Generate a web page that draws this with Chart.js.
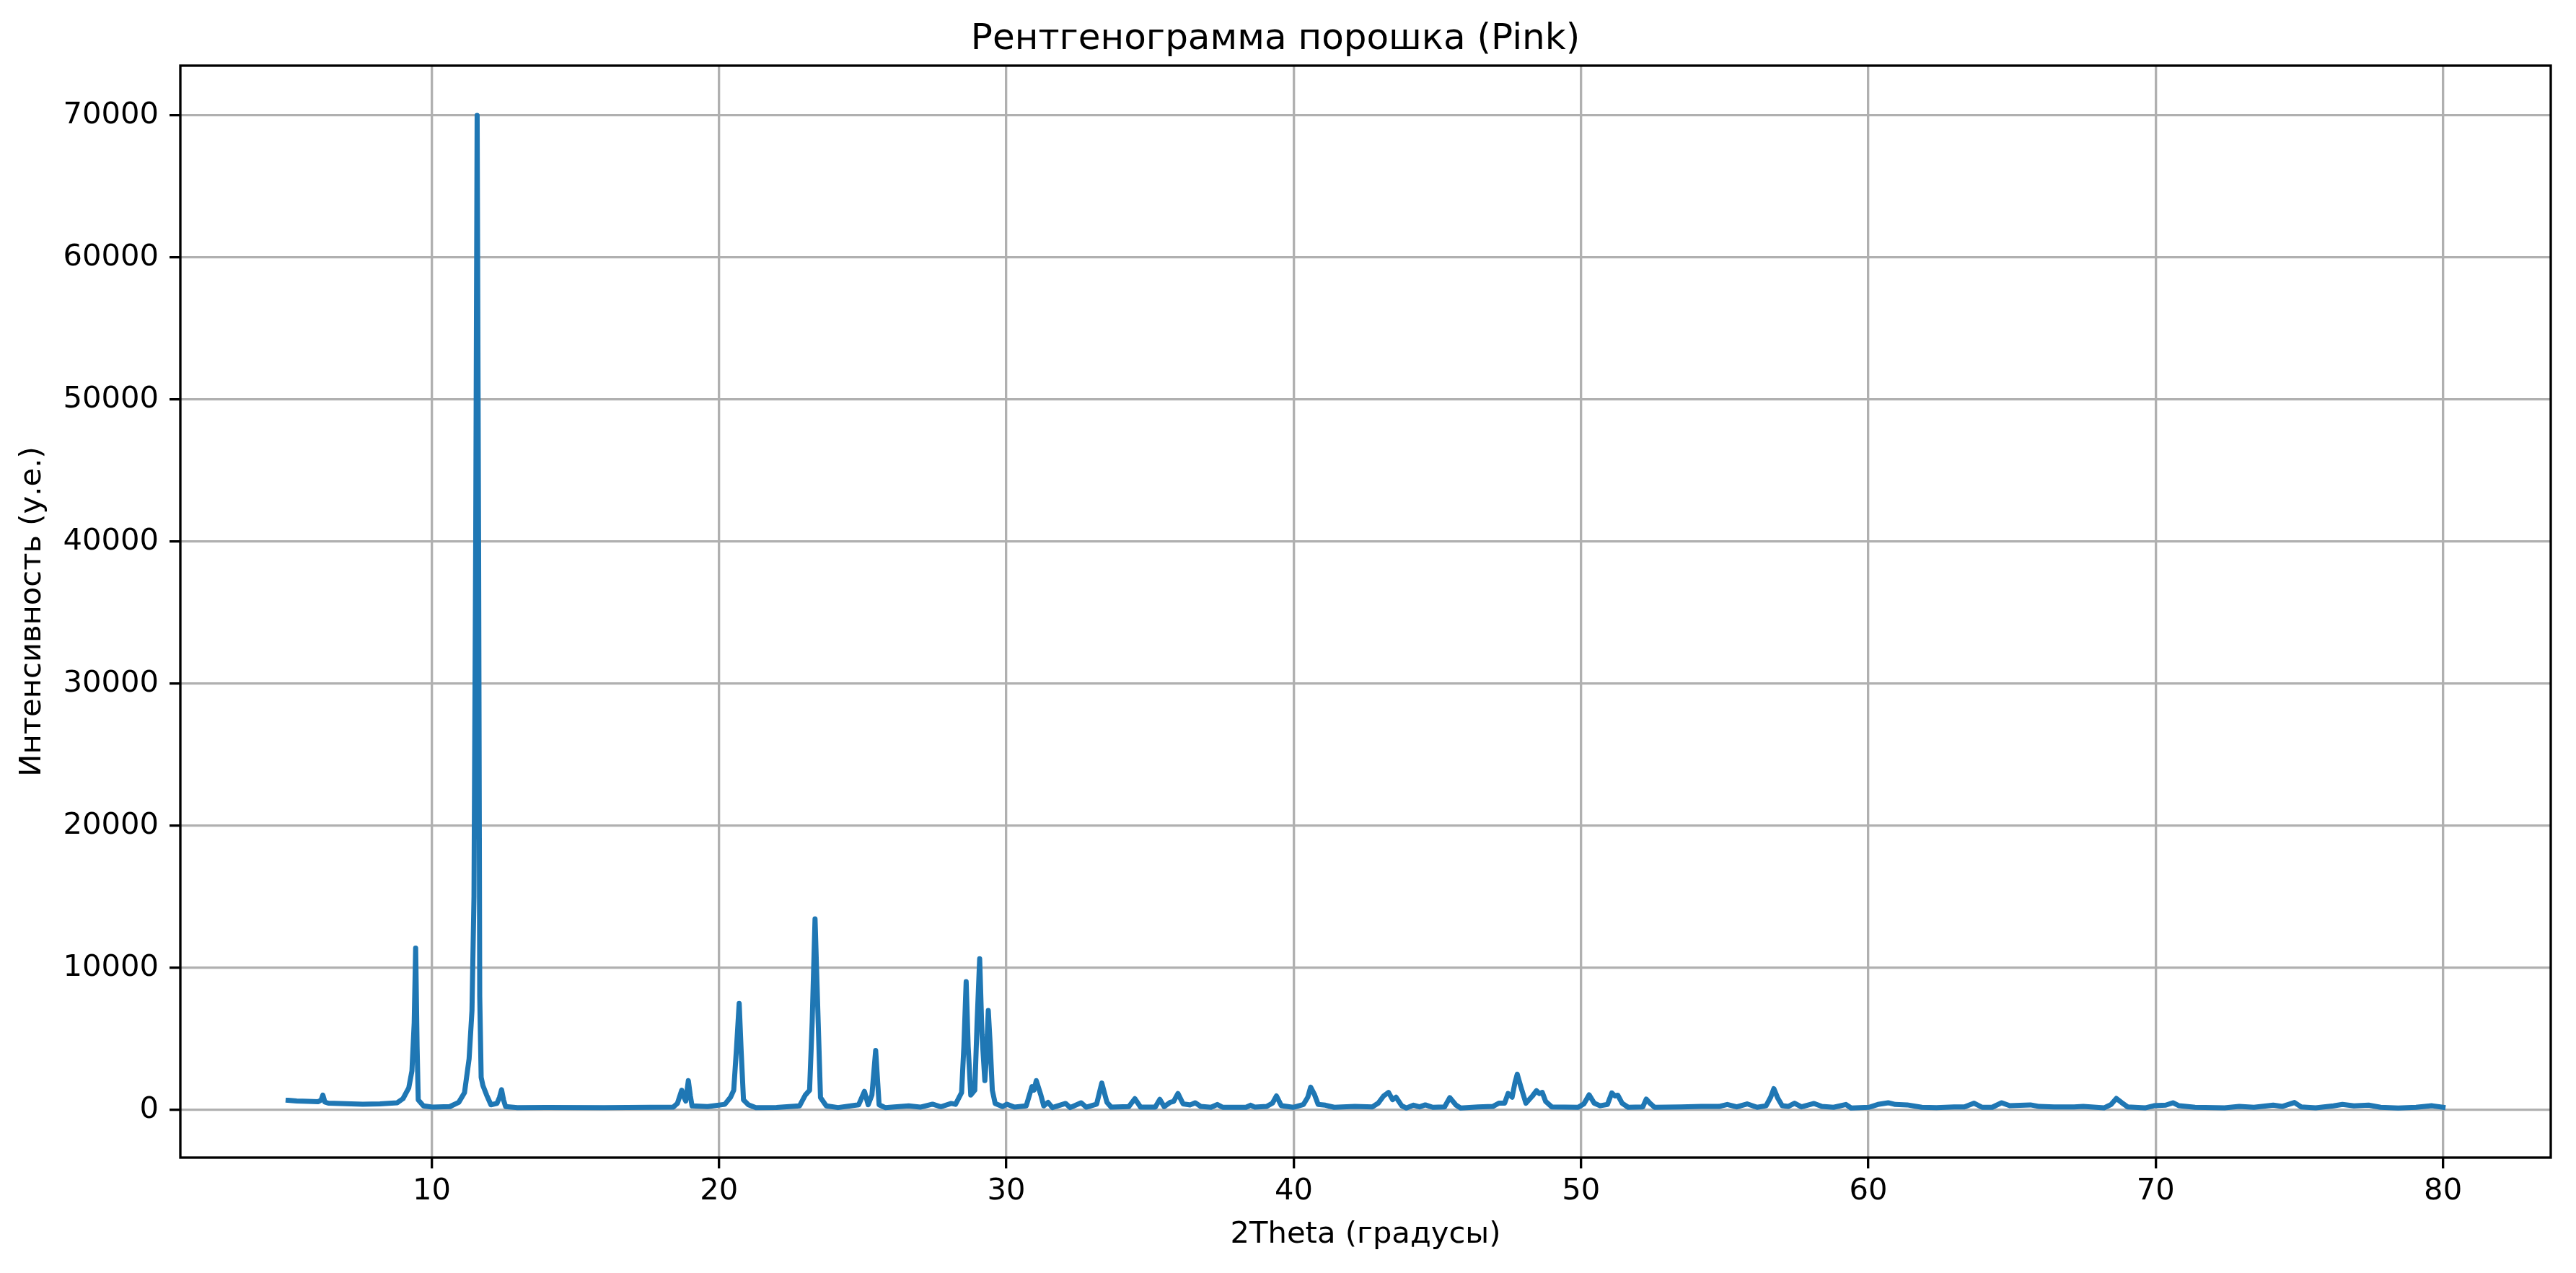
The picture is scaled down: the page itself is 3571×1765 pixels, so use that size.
<!DOCTYPE html>
<html>
<head>
<meta charset="utf-8">
<script src="https://cdn.jsdelivr.net/npm/chart.js@4.4.1/dist/chart.umd.min.js"></script>
<style>
  html, body { margin: 0; padding: 0; background: #ffffff; }
  #c { display: block; }
</style>
</head>
<body>
<canvas id="c" width="3571" height="1765" style="width:3571px;height:1765px"></canvas>
<script>
// ---- data ----
const twoTheta = [
  5.0, 5.3, 5.7, 6.05, 6.15, 6.21, 6.28, 6.4, 7.0, 7.6, 8.2, 8.8, 9.0, 9.2, 9.31, 9.39, 9.44, 9.49, 9.53, 9.71,
  10.02, 10.63, 10.94, 11.14, 11.3, 11.4, 11.47, 11.53, 11.58, 11.63, 11.67, 11.72, 11.78, 11.91, 12.06, 12.27, 12.36, 12.43, 12.5, 12.57,
  12.98, 14.0, 16.0, 18.4, 18.55, 18.7, 18.78, 18.84, 18.93, 19.0, 19.06, 19.6, 20.2, 20.4, 20.51, 20.61, 20.7, 20.77, 20.85, 21.02,
  21.28, 22.0, 22.8, 23.0, 23.15, 23.24, 23.34, 23.45, 23.53, 23.73, 24.14, 24.86, 25.06, 25.19, 25.32, 25.45, 25.57, 25.78, 26.6, 27.0,
  27.43, 27.72, 28.08, 28.23, 28.44, 28.52, 28.6, 28.67, 28.76, 28.9, 28.98, 29.07, 29.15, 29.25, 29.3, 29.37, 29.44, 29.51, 29.61, 29.87,
  30.02, 30.28, 30.69, 30.89, 30.96, 31.04, 31.2, 31.3, 31.45, 31.6, 32.06, 32.22, 32.6, 32.78, 33.14, 33.32, 33.5, 33.65, 34.26, 34.47,
  34.67, 35.18, 35.34, 35.49, 35.7, 35.82, 35.97, 36.15, 36.4, 36.57, 36.76, 37.12, 37.34, 37.53, 38.34, 38.5, 38.65, 39.06, 39.26, 39.4,
  39.57, 39.98, 40.34, 40.49, 40.59, 40.72, 40.85, 41.1, 41.41, 42.13, 42.74, 42.94, 43.13, 43.3, 43.44, 43.56, 43.76, 43.92, 44.17, 44.38,
  44.58, 44.84, 45.25, 45.43, 45.65, 45.81, 46.42, 46.93, 47.14, 47.34, 47.46, 47.6, 47.7, 47.78, 47.9, 48.08, 48.31, 48.45, 48.55, 48.65,
  48.77, 48.98, 49.9, 50.1, 50.28, 50.46, 50.66, 50.92, 51.07, 51.18, 51.28, 51.43, 51.64, 52.15, 52.27, 52.4, 52.56, 53.48, 54.19, 54.8,
  55.09, 55.42, 55.78, 56.13, 56.44, 56.6, 56.71, 56.85, 57.0, 57.21, 57.43, 57.67, 58.11, 58.38, 58.79, 59.22, 59.4, 60.02, 60.33, 60.69,
  60.94, 61.35, 61.86, 62.37, 62.99, 63.34, 63.68, 63.96, 64.31, 64.64, 64.92, 65.64, 65.95, 66.46, 67.16, 67.48, 68.2, 68.45, 68.63, 68.81,
  69.02, 69.63, 69.94, 70.35, 70.6, 70.81, 71.37, 72.4, 72.91, 73.42, 74.09, 74.4, 74.83, 75.06, 75.57, 76.19, 76.5, 76.9, 77.41, 77.83,
  78.44, 79.06, 79.62, 80.0
];
const intensity = [
  680, 640, 610, 590, 700, 1050, 560, 480, 440, 410, 430, 510, 800, 1560, 2750, 6150, 11400, 4450, 710, 290,
  200, 240, 540, 1220, 3600, 7000, 15000, 40000, 70000, 40000, 8000, 2300, 1730, 1050, 370, 460, 900, 1430, 700, 240,
  170, 180, 170, 200, 460, 1390, 900, 630, 2070, 1000, 290, 240, 400, 900, 1390, 4450, 7500, 4100, 710, 370,
  170, 180, 290, 1050, 1390, 6150, 13450, 6150, 880, 290, 170, 370, 1310, 370, 1050, 4190, 370, 170, 290, 200,
  410, 230, 460, 400, 1220, 4450, 9030, 4450, 1050, 1390, 6150, 10650, 5300, 2070, 3600, 7000, 4450, 1390, 460, 240,
  410, 200, 290, 1650, 1400, 2070, 1050, 290, 540, 170, 460, 170, 510, 200, 410, 1900, 540, 200, 240, 800,
  200, 200, 750, 240, 540, 600, 1160, 430, 360, 510, 255, 190, 390, 190, 190, 340, 200, 250, 480, 990,
  300, 190, 390, 900, 1610, 1100, 390, 340, 190, 250, 220, 480, 990, 1240, 730, 900, 300, 140, 340, 220,
  360, 190, 220, 870, 340, 140, 220, 250, 480, 480, 1160, 900, 1920, 2520, 1670, 480, 990, 1360, 1160, 1240,
  600, 220, 190, 430, 1070, 480, 300, 390, 1200, 990, 1040, 480, 190, 220, 765, 480, 190, 220, 250, 250,
  390, 220, 430, 190, 300, 900, 1500, 820, 300, 250, 480, 220, 460, 250, 190, 390, 140, 190, 390, 510,
  390, 360, 190, 170, 220, 220, 480, 190, 190, 510, 300, 360, 250, 220, 220, 250, 150, 390, 816, 530,
  220, 150, 300, 340, 510, 300, 190, 150, 250, 190, 340, 250, 530, 220, 150, 290, 390, 290, 340, 190,
  140, 190, 300, 190
];
const xTickValues = [10, 20, 30, 40, 50, 60, 70, 80];
const yTickValues = [0, 10000, 20000, 30000, 40000, 50000, 60000, 70000];

const titleText = 'Рентгенограмма порошка (Pink)';
const xTitleText = '2Theta (градусы)';
const yTitleText = 'Интенсивность (у.е.)';

// ---- chart ----
const FONT = 'DejaVu Sans';
const GRID = '#b0b0b0';
const LW = 3.33;

const framePlugin = {
  id: 'frame',
  afterDatasetsDraw(chart) {
    const a = chart.chartArea, ctx = chart.ctx;
    ctx.save();
    ctx.strokeStyle = '#000000';
    ctx.lineWidth = LW;
    ctx.lineJoin = 'miter';
    ctx.strokeRect(a.left, a.top, a.right - a.left, a.bottom - a.top);
    ctx.restore();
  }
};

new Chart(document.getElementById('c'), {
  type: 'line',
  data: {
    datasets: [{
      data: twoTheta.map((x, i) => ({ x: x, y: intensity[i] })),
      borderColor: '#1f77b4',
      borderWidth: 7,
      pointRadius: 0,
      tension: 0,
      fill: false,
      borderJoinStyle: 'round',
      borderCapStyle: 'square'
    }]
  },
  options: {
    responsive: false,
    devicePixelRatio: 1,
    animation: false,
    events: [],
    layout: { padding: { left: 0, right: 35, top: 0, bottom: 0 } },
    plugins: {
      legend: { display: false },
      tooltip: { enabled: false },
      title: {
        display: true,
        text: titleText,
        color: '#000000',
        font: { family: FONT, size: 50, weight: 'normal', lineHeight: 1.2 },
        padding: { top: 25, bottom: 6 }
      }
    },
    scales: {
      x: {
        type: 'linear',
        min: 1.25,
        max: 83.75,
        afterBuildTicks: (axis) => { axis.ticks = xTickValues.map(v => ({ value: v })); },
        afterFit: (axis) => { axis.height = 160; },
        ticks: {
          color: '#000000',
          font: { family: FONT, size: 41.7, lineHeight: 1.2 },
          padding: 7,
          maxRotation: 0,
          autoSkip: false,
          callback: (v) => String(v)
        },
        grid: {
          color: GRID,
          lineWidth: LW,
          tickColor: '#000000',
          tickLength: 15,
          tickWidth: LW,
          drawTicks: true
        },
        border: { display: false },
        title: {
          display: true,
          text: xTitleText,
          color: '#000000',
          font: { family: FONT, size: 41.7, lineHeight: 1.2 },
          padding: { top: 0, bottom: 28 }
        }
      },
      y: {
        type: 'linear',
        min: -3350,
        max: 73500,
        afterBuildTicks: (axis) => { axis.ticks = yTickValues.map(v => ({ value: v })); },
        afterFit: (axis) => { axis.width = 250; },
        ticks: {
          color: '#000000',
          font: { family: FONT, size: 41.7, lineHeight: 1.2 },
          padding: 15,
          autoSkip: false,
          callback: (v) => String(v)
        },
        grid: {
          color: GRID,
          lineWidth: LW,
          tickColor: '#000000',
          tickLength: 15,
          tickWidth: LW,
          drawTicks: true
        },
        border: { display: false },
        title: {
          display: true,
          text: yTitleText,
          color: '#000000',
          font: { family: FONT, size: 41.7, lineHeight: 1.2 },
          padding: { top: 20, bottom: 0 }
        }
      }
    }
  },
  plugins: [framePlugin]
});
</script>
</body>
</html>
